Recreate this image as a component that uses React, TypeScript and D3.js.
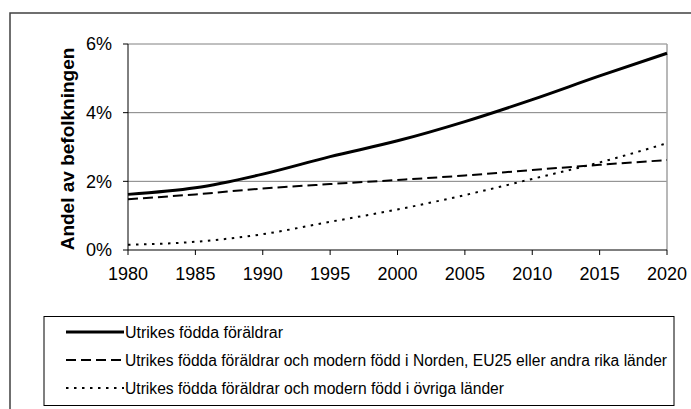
import React from "react";
import * as d3 from "d3";

const years = [1980, 1985, 1990, 1995, 2000, 2005, 2010, 2015, 2020];
const seriesAll = [1.62, 1.81, 2.21, 2.72, 3.18, 3.74, 4.38, 5.07, 5.73];
const seriesRich = [1.48, 1.62, 1.79, 1.92, 2.04, 2.17, 2.33, 2.48, 2.62];
const seriesOther = [0.15, 0.24, 0.46, 0.82, 1.18, 1.6, 2.07, 2.55, 3.11];
const yTicks = [0, 2, 4, 6];
const xTicks = [1980, 1985, 1990, 1995, 2000, 2005, 2010, 2015, 2020];
const legendLabels = [
  "Utrikes födda föräldrar",
  "Utrikes födda föräldrar och modern född i Norden, EU25 eller andra rika länder",
  "Utrikes födda föräldrar och modern född i övriga länder",
];
const legendWidths = [158, 542, 379];
const yTitle = "Andel av befolkningen";

const W = 691;
const H = 409;
const FONT = "'Liberation Sans', Arial, sans-serif";

export default function App() {
  const left = 128, right = 667, top = 44, bottom = 250;
  const x = d3.scaleLinear().domain([1980, 2020]).range([left, right]);
  const y = d3.scaleLinear().domain([0, 6]).range([bottom, top]);
  const line = d3
    .line<number>()
    .x((_, i) => x(years[i]))
    .y((d) => y(d))
    .curve(d3.curveMonotoneX);

  const styles = [
    { data: seriesAll, width: 3, dash: "" },
    { data: seriesRich, width: 2, dash: "10,5" },
    { data: seriesOther, width: 2, dash: "2.5,5.5" },
  ];

  const legY = [332, 360, 388];

  return (
    <svg
      width={W}
      height={H}
      style={{ position: "absolute", left: 0, top: 0, background: "#fff" }}
      fontFamily={FONT}
    >
      <rect x={0} y={0} width={W} height={H} fill="#fff" />
      {/* outer frame */}
      <rect x={10} y={13} width={720} height={450} fill="none" stroke="#404040" strokeWidth={1.5} />

      {/* gridlines */}
      {yTicks.filter((t) => t > 0).map((t) => (
        <line key={t} x1={left} x2={right} y1={y(t)} y2={y(t)} stroke="#808080" strokeWidth={1} />
      ))}
      <line x1={right} x2={right} y1={top} y2={bottom} stroke="#a0a0a0" strokeWidth={1.5} />

      {/* axes */}
      <line x1={left} x2={left} y1={top} y2={bottom} stroke="#000" strokeWidth={1} />
      <line x1={left} x2={right} y1={bottom} y2={bottom} stroke="#000" strokeWidth={1} />
      {yTicks.map((t) => (
        <g key={t}>
          <line x1={left - 5} x2={left} y1={y(t)} y2={y(t)} stroke="#000" />
          <text x={left - 16} y={y(t)} dy="0.36em" textAnchor="end" fontSize={18} fill="#000">
            {t}%
          </text>
        </g>
      ))}
      {xTicks.map((t) => (
        <g key={t}>
          <line x1={x(t)} x2={x(t)} y1={bottom} y2={bottom + 5} stroke="#000" />
          <text x={x(t)} y={bottom + 30} textAnchor="middle" fontSize={18} fill="#000">
            {t}
          </text>
        </g>
      ))}
      <text
        transform={`translate(74,149) rotate(-90)`}
        textAnchor="middle"
        fontSize={19}
        fontWeight="bold"
        fill="#000"
      >
        {yTitle}
      </text>

      {/* lines */}
      {styles.map((s, i) => (
        <path
          key={i}
          d={line(s.data) || ""}
          fill="none"
          stroke="#000"
          strokeWidth={s.width}
          strokeDasharray={s.dash || undefined}
        />
      ))}

      {/* legend */}
      <rect x={44} y={316.5} width={630} height={89} fill="#fff" stroke="#000" strokeWidth={1} />
      {legendLabels.map((lab, i) => (
        <g key={i}>
          <line
            x1={66}
            x2={124}
            y1={legY[i]}
            y2={legY[i]}
            stroke="#000"
            strokeWidth={styles[i].width}
            strokeDasharray={styles[i].dash || undefined}
          />
          <text
            x={125}
            y={legY[i]}
            dy="0.36em"
            fontSize={16}
            fill="#000"
            textLength={legendWidths[i]}
            lengthAdjust="spacingAndGlyphs"
          >
            {lab}
          </text>
        </g>
      ))}
    </svg>
  );
}
